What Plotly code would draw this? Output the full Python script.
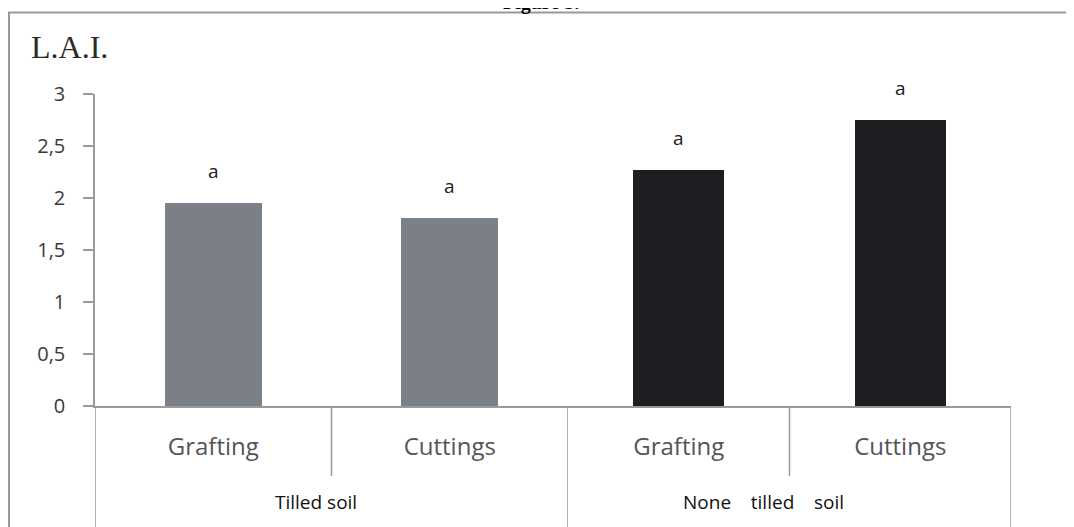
import plotly.graph_objects as go

groups = ["Tilled soil", "None    tilled    soil"]
treatments = ["Grafting", "Cuttings"]
lai_tilled = [1.95, 1.81]
lai_none = [2.27, 2.75]
letters_tilled = ["a", "a"]
letters_none = ["a", "a"]
y_ticks = [0, 0.5, 1, 1.5, 2, 2.5, 3]
colors = ["#7b8086", "#1c1e21"]

OFF = 8  # page body margin
W, H = 1074, 527
L, R, T, B = 95 - OFF, 71, 94 - OFF, 129
pw = W - L - R
ph = H - T - B

def px_x(p):
    return (p - OFF - L) / pw

def px_y(p):
    return (T + ph - (p - OFF)) / ph

split = px_x(568)

fig = go.Figure()
fig.add_trace(go.Bar(x=treatments, y=lai_tilled, marker=dict(color=colors[0], line=dict(width=0)),
                     width=0.41, xaxis="x", yaxis="y", showlegend=False))
fig.add_trace(go.Bar(x=treatments, y=lai_none, marker=dict(color=colors[1], line=dict(width=0)),
                     width=0.41, xaxis="x2", yaxis="y", showlegend=False))

ann = []
for xr, vals, lets in (("x", lai_tilled, letters_tilled), ("x2", lai_none, letters_none)):
    for t, v, l in zip(treatments, vals, lets):
        ann.append(dict(x=t, y=v, xref=xr, yref="y", text=l, showarrow=False,
                        yanchor="bottom", yshift=17,
                        font=dict(family="Open Sans", size=19, color="#1a1a1a")))

group_x = [px_x(316), px_x(763)]
for g, gx in zip(groups, group_x):
    ann.append(dict(x=gx, y=px_y(502), xref="paper", yref="paper",
                    text=g.replace(" ", "\u00a0"), showarrow=False,
                    xanchor="center", yanchor="middle",
                    font=dict(family="Open Sans", size=19, color="#111")))

ann.append(dict(x=px_x(29), y=px_y(47), xref="paper", yref="paper", text="L.A.I.",
                showarrow=False, xanchor="left", yanchor="middle",
                font=dict(family="Liberation Serif", size=32, color="#2a2a2a")))
ann.append(dict(x=px_x(541), y=px_y(3), xref="paper", yref="paper", text="<b>Figure 3.</b>",
                showarrow=False, xanchor="center", yanchor="middle",
                font=dict(family="Liberation Serif", size=20, color="#000")))

line_c = "#9a9a9a"
shapes = [
    dict(type="rect", xref="paper", yref="paper", x0=px_x(9), x1=1.3, y0=-1, y1=px_y(12.5),
         line=dict(color="#999999", width=2), layer="below"),
]
short_y, long_y = px_y(476), px_y(540)
for xr, xpos, y1 in (("x", -0.5, long_y), ("x", 0.5, short_y), ("x", 1.5, long_y),
                     ("x2", 0.5, short_y), ("x2", 1.5, long_y)):
    shapes.append(dict(type="line", xref=xr, yref="paper", x0=xpos, x1=xpos, y0=0, y1=y1,
                       line=dict(color=line_c, width=1.5)))

xcommon = dict(type="category", range=[-0.5, 1.5], showline=True, linecolor=line_c, linewidth=1.5,
               ticks="", showgrid=False, zeroline=False, ticklabelstandoff=18,
               tickfont=dict(family="Open Sans", size=24, color="#555"))

fig.update_layout(
    width=W, height=H, margin=dict(l=L, r=R, t=T, b=B, autoexpand=False),
    paper_bgcolor="white", plot_bgcolor="white",
    separators=", ",
    xaxis=dict(domain=[0, split], anchor="y", **xcommon),
    xaxis2=dict(domain=[split, 1], anchor="y", **xcommon),
    yaxis=dict(range=[0, 3], tickvals=y_ticks, tickformat=".1~f", showline=True, linecolor=line_c,
               linewidth=1.5, ticks="outside", ticklen=10, tickcolor=line_c, tickwidth=1.5,
               showgrid=False, zeroline=False, ticklabelstandoff=14,
               tickfont=dict(family="Open Sans", size=20, color="#3a3a3a")),
    annotations=ann, shapes=shapes, bargap=0,
)

fig.write_html("out.html")
